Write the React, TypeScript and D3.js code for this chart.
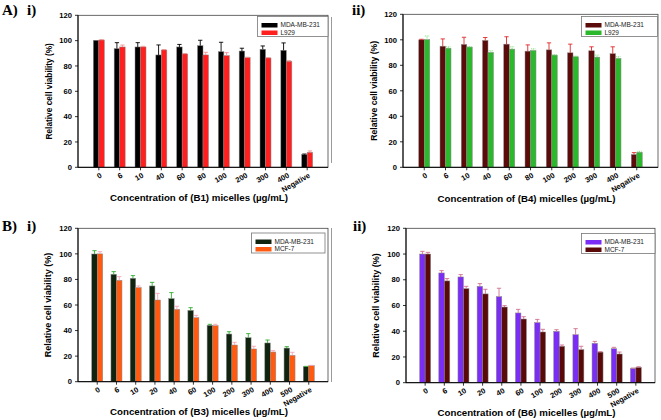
import React from "react";
import * as d3 from "d3";

const catsA = ["0", "6", "10", "40", "60", "80", "100", "200", "300", "400", "Negative"];
const catsB = ["0", "6", "10", "20", "40", "60", "100", "200", "300", "400", "500", "Negative"];
const yTicks = [0, 20, 40, 60, 80, 100, 120];

// Panel A i (B1 micelles)
const a1Mda = [100.3, 93.7, 95, 88.7, 95, 96, 91.3, 91.8, 93.2, 92.4, 10];
const a1MdaErr = [0, 4.7, 3.4, 7.9, 2, 4.3, 7.4, 2.2, 2.6, 5.8, 0.5];
const a1L929 = [100.5, 95, 95, 92.6, 89.5, 88.7, 88.2, 86.6, 86.3, 83.7, 11.8];
const a1L929Err = [0.3, 1.5, 0.5, 0.4, 0.3, 2.1, 2.3, 0.3, 0.3, 0.5, 1.1];

// Panel A ii (B4 micelles)
const a2Mda = [100, 95, 96.4, 99.5, 96.6, 91.1, 92.1, 89.8, 91.4, 89.1, 10];
const a2MdaErr = [0.4, 5.7, 5.6, 2.3, 5.8, 4.9, 5.5, 6.8, 3.1, 5.4, 1.5];
const a2L929 = [100.2, 93.4, 94.3, 90.1, 92.7, 91.6, 88, 86.7, 86.4, 85.4, 11.8];
const a2L929Err = [2.8, 1.1, 0.3, 1.3, 1.8, 1.3, 0.3, 0.5, 1.6, 1.3, 0.7];

// Panel B i (B3 micelles)
const b1Mda = [99.9, 84, 80.9, 74.9, 65, 55.8, 44.1, 37.3, 34.4, 30.3, 26.3, 11.7];
const b1MdaErr = [2.6, 2.1, 2.1, 2.8, 4.7, 2.1, 0.8, 1.8, 3.2, 2.3, 1.1, 0.3];
const b1Mcf = [100, 79.3, 73.6, 63.9, 56.6, 50.1, 43.8, 28.7, 25.6, 23.2, 20.6, 12.5];
const b1McfErr = [1.7, 2.9, 1.3, 5.2, 2.4, 1.8, 1.1, 2.1, 2.1, 1.1, 2.4, 0.3];

// Panel B ii (B6 micelles)
const b2Mda = [100, 85.3, 82.2, 74.9, 66.9, 54.2, 46.7, 39.9, 37.3, 30.6, 26.4, 11.1];
const b2MdaErr = [2.1, 1.8, 1.8, 2.1, 6.5, 2.8, 2.5, 1.3, 4.7, 1.5, 1.1, 0.3];
const b2Mcf = [100, 79.1, 73.1, 69, 58.8, 49.5, 39.4, 28.3, 25.7, 23.8, 22.3, 11.9];
const b2McfErr = [1.3, 1.8, 1.8, 3.6, 1.1, 1.8, 2.1, 1.0, 2.6, 0.3, 1.5, 0.5];

const FONT = "'Liberation Sans', Arial, sans-serif";

type PanelProps = {
  cats: string[];
  s1: number[];
  e1: number[];
  s2: number[];
  e2: number[];
  names: [string, string];
  colors: [string, string];
  errColors: [string, string];
  errDash: [string, string];
  xTitle: string;
  left: number;
  right: number;
  top: number;
  bottom: number;
  xTitleY: number;
  yTitleX: number;
  yTitleSize: number;
  legendTop: number;
  legendLeft: number;
  legendRight: number;
};

function Panel(p: PanelProps) {
  const x = d3.scalePoint<string>().domain(p.cats).range([p.left, p.right]).padding(1);
  const y = d3.scaleLinear().domain([0, 120]).range([p.bottom, p.top]);
  const bw = 5.5;
  const series = [
    { v: p.s1, e: p.e1, c: p.colors[0], ec: p.errColors[0], dash: p.errDash[0], off: -bw },
    { v: p.s2, e: p.e2, c: p.colors[1], ec: p.errColors[1], dash: p.errDash[1], off: 0 },
  ];
  const lx = p.legendLeft;
  const ly = p.legendTop;
  return (
    <g>
      <rect x={p.left} y={p.top} width={p.right - p.left} height={p.bottom - p.top} fill="#fff" stroke="#444" strokeWidth={0.8} />
      {series.map((s, si) =>
        p.cats.map((c, i) => {
          const cx = (x(c) as number) + s.off;
          const yv = y(s.v[i]);
          const ye = y(s.v[i] + s.e[i]);
          return (
            <g key={si + "-" + i}>
              <rect x={cx} y={yv} width={bw} height={p.bottom - yv} fill={s.c} stroke="#8a8a8a" strokeWidth={0.5} />
              {s.e[i] > 0.2 && (
                <g stroke={s.ec} strokeWidth={0.9} strokeDasharray={s.dash}>
                  <line x1={cx + bw / 2} x2={cx + bw / 2} y1={yv} y2={ye} />
                  <line x1={cx + 0.6} x2={cx + bw - 0.6} y1={ye} y2={ye} />
                </g>
              )}
            </g>
          );
        })
      )}
      <line x1={p.left} x2={p.left} y1={p.top} y2={p.bottom} stroke="#000" strokeWidth={1} />
      <line x1={p.left} x2={p.right} y1={p.bottom} y2={p.bottom} stroke="#000" strokeWidth={1} />
      {yTicks.map((t) => (
        <g key={t}>
          <line x1={p.left - 3} x2={p.left} y1={y(t)} y2={y(t)} stroke="#000" strokeWidth={0.8} />
          <text x={p.left - 6} y={y(t) + 2.7} textAnchor="end" fontSize={7.6} fontWeight="bold" fontFamily={FONT} fill="#000">
            {t}
          </text>
        </g>
      ))}
      {p.cats.map((c) => {
        const cx = x(c) as number;
        return (
          <g key={c}>
            <line x1={cx} x2={cx} y1={p.bottom} y2={p.bottom + 3} stroke="#000" strokeWidth={0.8} />
            <text
              transform={`translate(${cx + 3.5},${p.bottom + 9.5}) rotate(-30)`}
              textAnchor="end"
              fontSize={7.5}
              fontWeight="bold"
              fontFamily={FONT}
              fill="#000"
            >
              {c}
            </text>
          </g>
        );
      })}
      <text x={(p.left + p.right) / 2 - 4} y={p.xTitleY} textAnchor="middle" fontSize={9.7} fontWeight="bold" fontFamily={FONT} fill="#000">
        {p.xTitle}
      </text>
      <text
        transform={`translate(${p.yTitleX},${(p.top + p.bottom) / 2}) rotate(-90)`}
        textAnchor="middle"
        fontSize={p.yTitleSize}
        fontWeight="bold"
        fontFamily={FONT}
        fill="#000"
      >
        Relative cell viability (%)
      </text>
      <rect x={lx} y={ly} width={p.legendRight - lx} height={20} fill="#fff" stroke="#777" strokeWidth={0.8} />
      {p.names.map((n, i) => (
        <g key={n}>
          <rect x={lx + 4} y={ly + 6.5 + i * 7.5} width={16} height={4.5} fill={p.colors[i]} />
          <text x={lx + 23} y={ly + 10.8 + i * 7.5} fontSize={6.5} fontFamily={FONT} fill="#222">
            {n}
          </text>
        </g>
      ))}
    </g>
  );
}

const serif = "'Liberation Serif', 'DejaVu Serif', serif";

export default function App() {
  return (
    <svg width={661} height={420} style={{ position: "absolute", left: 0, top: 0, background: "#fff" }}>
      <rect width={661} height={420} fill="#fff" />
      <text x={2} y={15} fontSize={15} fontWeight="bold" fontFamily={serif}>A)</text>
      <text x={27} y={15} fontSize={15} fontWeight="bold" fontFamily={serif}>i)</text>
      <text x={352} y={15} fontSize={15} fontWeight="bold" fontFamily={serif}>ii)</text>
      <text x={2} y={231} fontSize={15} fontWeight="bold" fontFamily={serif}>B)</text>
      <text x={27} y={231} fontSize={15} fontWeight="bold" fontFamily={serif}>i)</text>
      <text x={353} y={231} fontSize={15} fontWeight="bold" fontFamily={serif}>ii)</text>
      <line x1={331.5} x2={331.5} y1={17} y2={163} stroke="#9a9a9a" strokeWidth={1} />
      <line x1={331.5} x2={331.5} y1={228} y2={382} stroke="#9a9a9a" strokeWidth={1} />
      <Panel
        cats={catsA} s1={a1Mda} e1={a1MdaErr} s2={a1L929} e2={a1L929Err}
        names={["MDA-MB-231", "L929"]} colors={["#000000", "#ff1f1f"]} errColors={["#000000", "#f09090"]}
        errDash={["none", "none"]}
        xTitle="Concentration of (B1) micelles (µg/mL)"
        left={78} right={328} top={15.3} bottom={167.3} xTitleY={201} yTitleX={52} yTitleSize={8.3}
        legendTop={16.5} legendLeft={257.5} legendRight={328}
      />
      <Panel
        cats={catsA} s1={a2Mda} e1={a2MdaErr} s2={a2L929} e2={a2L929Err}
        names={["MDA-MB-231", "L929"]} colors={["#5c0b0b", "#2cb82c"]} errColors={["#e02828", "#70dc70"]}
        errDash={["none", "1 0.8"]}
        xTitle="Concentration of (B4) micelles (µg/mL)"
        left={403} right={658} top={14.3} bottom={167.3} xTitleY={202} yTitleX={377} yTitleSize={8.6}
        legendTop={16.5} legendLeft={581.5} legendRight={657.5}
      />
      <Panel
        cats={catsB} s1={b1Mda} e1={b1MdaErr} s2={b1Mcf} e2={b1McfErr}
        names={["MDA-MB-231", "MCF-7"]} colors={["#0f230f", "#ff5a0f"]} errColors={["#30ac30", "#f4a4b8"]}
        errDash={["none", "none"]}
        xTitle="Concentration of (B3) micelles (µg/mL)"
        left={78} right={328} top={228.3} bottom={381.7} xTitleY={415} yTitleX={51} yTitleSize={9}
        legendTop={233} legendLeft={251.5} legendRight={325}
      />
      <Panel
        cats={catsB} s1={b2Mda} e1={b2MdaErr} s2={b2Mcf} e2={b2McfErr}
        names={["MDA-MB-231", "MCF-7"]} colors={["#7a2ef5", "#5a0909"]} errColors={["#d0708c", "#d0708c"]}
        errDash={["none", "none"]}
        xTitle="Concentration of (B6) micelles (µg/mL)"
        left={406} right={655} top={228.3} bottom={382.7} xTitleY={416} yTitleX={379} yTitleSize={9}
        legendTop={233.5} legendLeft={581.5} legendRight={655}
      />
    </svg>
  );
}
